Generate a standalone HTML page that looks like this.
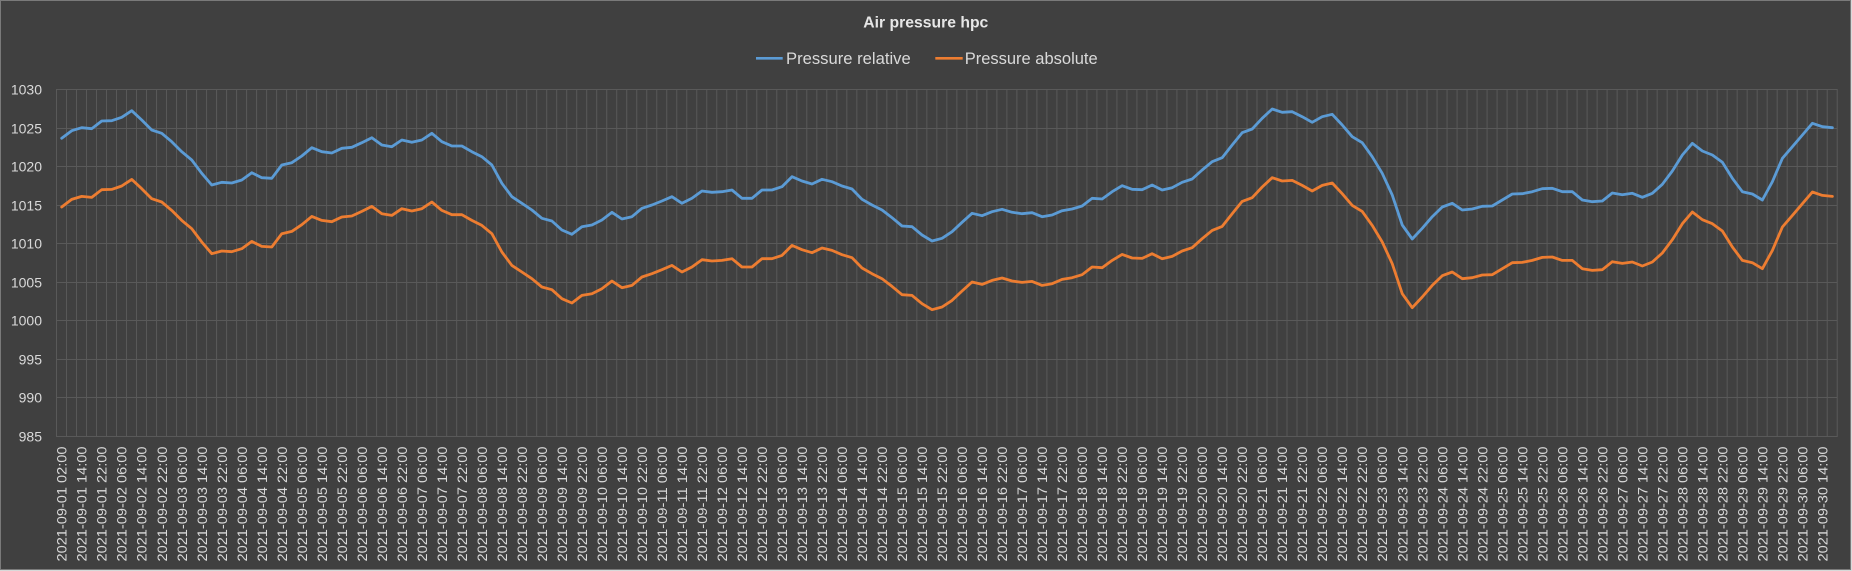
<!DOCTYPE html>
<html>
<head>
<meta charset="utf-8">
<style>
html,body{margin:0;padding:0;background:#d9d9d9;}
svg{display:block;}
text{font-family:"Liberation Sans",sans-serif;fill:#d9d9d9;}
</style>
</head>
<body>
<svg width="1852" height="571" viewBox="0 0 1852 571" xmlns="http://www.w3.org/2000/svg">
<rect x="0" y="0" width="1852" height="571" fill="#d9d9d9"/>
<rect x="0.5" y="0.5" width="1850" height="569" fill="#404040" stroke="#7a7a7a" stroke-width="1"/>

<!-- title -->
<text x="863.3" y="27.7" font-size="16" font-weight="bold" textLength="125" lengthAdjust="spacingAndGlyphs" style="fill:#e6e6e6">Air pressure hpc</text>

<!-- legend -->
<line x1="756" y1="58.3" x2="782.7" y2="58.3" stroke="#5B9BD5" stroke-width="2.6"/>
<text x="786" y="64" font-size="16.5" textLength="124.7" lengthAdjust="spacingAndGlyphs">Pressure relative</text>
<line x1="935.3" y1="58.3" x2="962.7" y2="58.3" stroke="#ED7D31" stroke-width="2.6"/>
<text x="964.7" y="64" font-size="16.5" textLength="133" lengthAdjust="spacingAndGlyphs">Pressure absolute</text>

<!-- vertical gridlines -->
<line x1="56" y1="263" x2="1838" y2="263" stroke="#595959" stroke-width="348" stroke-dasharray="1 9.004"/>
<!-- horizontal gridlines -->
<g stroke="#595959" stroke-width="1">
<line x1="56" y1="89.5" x2="1837.5" y2="89.5"/>
<line x1="56" y1="128.5" x2="1837.5" y2="128.5"/>
<line x1="56" y1="166.5" x2="1837.5" y2="166.5"/>
<line x1="56" y1="205.5" x2="1837.5" y2="205.5"/>
<line x1="56" y1="243.5" x2="1837.5" y2="243.5"/>
<line x1="56" y1="282.5" x2="1837.5" y2="282.5"/>
<line x1="56" y1="320.5" x2="1837.5" y2="320.5"/>
<line x1="56" y1="359.5" x2="1837.5" y2="359.5"/>
<line x1="56" y1="397.5" x2="1837.5" y2="397.5"/>
<line x1="56" y1="436.5" x2="1837.5" y2="436.5"/>
</g>

<!-- y labels -->
<g font-size="14" text-anchor="end">
<text x="42" y="94.5">1030</text>
<text x="42" y="133.5">1025</text>
<text x="42" y="171.5">1020</text>
<text x="42" y="210.5">1015</text>
<text x="42" y="248.5">1010</text>
<text x="42" y="287.5">1005</text>
<text x="42" y="325.5">1000</text>
<text x="42" y="364.5">995</text>
<text x="42" y="402.5">990</text>
<text x="42" y="441.5">985</text>
</g>

<!-- series -->
<g transform="translate(61.7,0) scale(1.0004,1)" fill="none" stroke-width="2.8" stroke-linejoin="round" stroke-linecap="round">
<polyline stroke="#5B9BD5" points="0,138.3 10,130.7 20,127.7 30,128.7 40,121 50,120.7 60,117.3 70,110.7 80,120 90,130 100,133.3 110,141.7 120,151.7 130,160 140,173.3 150,185 160,182.3 170,183 180,180 190,172.7 200,177.7 210,178.3 220,165 230,162.7 240,156 250,147.7 260,151.7 270,153 280,148.3 290,147.3 300,142.7 310,137.7 320,145 330,146.7 340,140 350,142.3 360,140 370,133.3 380,141.7 390,146 400,146 410,151.7 420,156.7 430,165 440,183.3 450,196.7 460,203.3 470,210 480,218.3 490,221 500,230 510,234.3 520,226.7 530,225 540,220 550,212.3 560,219 570,216.7 580,208.3 590,205 600,201 610,196.7 620,203.3 630,198.3 640,191 650,192.3 660,191.7 670,190 680,198.3 690,198.3 700,190 710,190 720,186.7 730,176.7 740,181 750,184 760,179.3 770,181.7 780,186 790,189 800,199.3 810,205 820,210 830,217.7 840,226 850,226.7 860,235 870,241 880,238.3 890,231.7 900,222.3 910,213.3 920,215.7 930,211.7 940,209.3 950,212.3 960,213.7 970,212.7 980,216.7 990,215 1000,210.7 1010,209 1020,206 1030,198.3 1040,199 1050,191.7 1060,185.7 1070,189.3 1080,189.7 1090,185 1100,190 1110,187.7 1120,182.3 1130,179 1140,170 1150,161.7 1160,157.7 1170,145 1180,132.7 1190,129 1200,118.3 1210,109 1220,112.3 1230,111.7 1240,116.7 1250,122.3 1260,116.7 1270,114.3 1280,125 1290,136.7 1300,142.7 1310,156.7 1320,173.3 1330,195 1340,225 1350,239 1360,228.3 1370,216.7 1380,207 1390,203.3 1400,210 1410,209 1420,206.3 1430,206 1440,200 1450,194 1460,193.7 1470,191.7 1480,188.7 1490,188.3 1500,191.7 1510,191.7 1520,200 1530,201.7 1540,201 1550,193 1560,194.7 1570,193.3 1580,197.3 1590,193.3 1600,184.3 1610,171 1620,155 1630,143.3 1640,151 1650,155 1660,162.3 1670,178.3 1680,191.7 1690,194 1700,200 1710,181.7 1720,158.3 1730,146.7 1740,135 1750,123.3 1760,126.7 1770,127.7"/>
<polyline stroke="#ED7D31" transform="translate(0,68.7)" points="0,138.3 10,130.7 20,127.7 30,128.7 40,121 50,120.7 60,117.3 70,110.7 80,120 90,130 100,133.3 110,141.7 120,151.7 130,160 140,173.3 150,185 160,182.3 170,183 180,180 190,172.7 200,177.7 210,178.3 220,165 230,162.7 240,156 250,147.7 260,151.7 270,153 280,148.3 290,147.3 300,142.7 310,137.7 320,145 330,146.7 340,140 350,142.3 360,140 370,133.3 380,141.7 390,146 400,146 410,151.7 420,156.7 430,165 440,183.3 450,196.7 460,203.3 470,210 480,218.3 490,221 500,230 510,234.3 520,226.7 530,225 540,220 550,212.3 560,219 570,216.7 580,208.3 590,205 600,201 610,196.7 620,203.3 630,198.3 640,191 650,192.3 660,191.7 670,190 680,198.3 690,198.3 700,190 710,190 720,186.7 730,176.7 740,181 750,184 760,179.3 770,181.7 780,186 790,189 800,199.3 810,205 820,210 830,217.7 840,226 850,226.7 860,235 870,241 880,238.3 890,231.7 900,222.3 910,213.3 920,215.7 930,211.7 940,209.3 950,212.3 960,213.7 970,212.7 980,216.7 990,215 1000,210.7 1010,209 1020,206 1030,198.3 1040,199 1050,191.7 1060,185.7 1070,189.3 1080,189.7 1090,185 1100,190 1110,187.7 1120,182.3 1130,179 1140,170 1150,161.7 1160,157.7 1170,145 1180,132.7 1190,129 1200,118.3 1210,109 1220,112.3 1230,111.7 1240,116.7 1250,122.3 1260,116.7 1270,114.3 1280,125 1290,136.7 1300,142.7 1310,156.7 1320,173.3 1330,195 1340,225 1350,239 1360,228.3 1370,216.7 1380,207 1390,203.3 1400,210 1410,209 1420,206.3 1430,206 1440,200 1450,194 1460,193.7 1470,191.7 1480,188.7 1490,188.3 1500,191.7 1510,191.7 1520,200 1530,201.7 1540,201 1550,193 1560,194.7 1570,193.3 1580,197.3 1590,193.3 1600,184.3 1610,171 1620,155 1630,143.3 1640,151 1650,155 1660,162.3 1670,178.3 1680,191.7 1690,194 1700,200 1710,181.7 1720,158.3 1730,146.7 1740,135 1750,123.3 1760,126.7 1770,127.7"/>
</g>

<!-- x labels -->
<g transform="translate(61.7,446.5) scale(1.0004,1)" font-size="14" text-anchor="end">
<text transform="translate(0,0) rotate(-90)" y="5" textLength="115" lengthAdjust="spacingAndGlyphs">2021-09-01 02:00</text>
<text transform="translate(20,0) rotate(-90)" y="5" textLength="115" lengthAdjust="spacingAndGlyphs">2021-09-01 14:00</text>
<text transform="translate(40,0) rotate(-90)" y="5" textLength="115" lengthAdjust="spacingAndGlyphs">2021-09-01 22:00</text>
<text transform="translate(60,0) rotate(-90)" y="5" textLength="115" lengthAdjust="spacingAndGlyphs">2021-09-02 06:00</text>
<text transform="translate(80,0) rotate(-90)" y="5" textLength="115" lengthAdjust="spacingAndGlyphs">2021-09-02 14:00</text>
<text transform="translate(100,0) rotate(-90)" y="5" textLength="115" lengthAdjust="spacingAndGlyphs">2021-09-02 22:00</text>
<text transform="translate(120,0) rotate(-90)" y="5" textLength="115" lengthAdjust="spacingAndGlyphs">2021-09-03 06:00</text>
<text transform="translate(140,0) rotate(-90)" y="5" textLength="115" lengthAdjust="spacingAndGlyphs">2021-09-03 14:00</text>
<text transform="translate(160,0) rotate(-90)" y="5" textLength="115" lengthAdjust="spacingAndGlyphs">2021-09-03 22:00</text>
<text transform="translate(180,0) rotate(-90)" y="5" textLength="115" lengthAdjust="spacingAndGlyphs">2021-09-04 06:00</text>
<text transform="translate(200,0) rotate(-90)" y="5" textLength="115" lengthAdjust="spacingAndGlyphs">2021-09-04 14:00</text>
<text transform="translate(220,0) rotate(-90)" y="5" textLength="115" lengthAdjust="spacingAndGlyphs">2021-09-04 22:00</text>
<text transform="translate(240,0) rotate(-90)" y="5" textLength="115" lengthAdjust="spacingAndGlyphs">2021-09-05 06:00</text>
<text transform="translate(260,0) rotate(-90)" y="5" textLength="115" lengthAdjust="spacingAndGlyphs">2021-09-05 14:00</text>
<text transform="translate(280,0) rotate(-90)" y="5" textLength="115" lengthAdjust="spacingAndGlyphs">2021-09-05 22:00</text>
<text transform="translate(300,0) rotate(-90)" y="5" textLength="115" lengthAdjust="spacingAndGlyphs">2021-09-06 06:00</text>
<text transform="translate(320,0) rotate(-90)" y="5" textLength="115" lengthAdjust="spacingAndGlyphs">2021-09-06 14:00</text>
<text transform="translate(340,0) rotate(-90)" y="5" textLength="115" lengthAdjust="spacingAndGlyphs">2021-09-06 22:00</text>
<text transform="translate(360,0) rotate(-90)" y="5" textLength="115" lengthAdjust="spacingAndGlyphs">2021-09-07 06:00</text>
<text transform="translate(380,0) rotate(-90)" y="5" textLength="115" lengthAdjust="spacingAndGlyphs">2021-09-07 14:00</text>
<text transform="translate(400,0) rotate(-90)" y="5" textLength="115" lengthAdjust="spacingAndGlyphs">2021-09-07 22:00</text>
<text transform="translate(420,0) rotate(-90)" y="5" textLength="115" lengthAdjust="spacingAndGlyphs">2021-09-08 06:00</text>
<text transform="translate(440,0) rotate(-90)" y="5" textLength="115" lengthAdjust="spacingAndGlyphs">2021-09-08 14:00</text>
<text transform="translate(460,0) rotate(-90)" y="5" textLength="115" lengthAdjust="spacingAndGlyphs">2021-09-08 22:00</text>
<text transform="translate(480,0) rotate(-90)" y="5" textLength="115" lengthAdjust="spacingAndGlyphs">2021-09-09 06:00</text>
<text transform="translate(500,0) rotate(-90)" y="5" textLength="115" lengthAdjust="spacingAndGlyphs">2021-09-09 14:00</text>
<text transform="translate(520,0) rotate(-90)" y="5" textLength="115" lengthAdjust="spacingAndGlyphs">2021-09-09 22:00</text>
<text transform="translate(540,0) rotate(-90)" y="5" textLength="115" lengthAdjust="spacingAndGlyphs">2021-09-10 06:00</text>
<text transform="translate(560,0) rotate(-90)" y="5" textLength="115" lengthAdjust="spacingAndGlyphs">2021-09-10 14:00</text>
<text transform="translate(580,0) rotate(-90)" y="5" textLength="115" lengthAdjust="spacingAndGlyphs">2021-09-10 22:00</text>
<text transform="translate(600,0) rotate(-90)" y="5" textLength="115" lengthAdjust="spacingAndGlyphs">2021-09-11 06:00</text>
<text transform="translate(620,0) rotate(-90)" y="5" textLength="115" lengthAdjust="spacingAndGlyphs">2021-09-11 14:00</text>
<text transform="translate(640,0) rotate(-90)" y="5" textLength="115" lengthAdjust="spacingAndGlyphs">2021-09-11 22:00</text>
<text transform="translate(660,0) rotate(-90)" y="5" textLength="115" lengthAdjust="spacingAndGlyphs">2021-09-12 06:00</text>
<text transform="translate(680,0) rotate(-90)" y="5" textLength="115" lengthAdjust="spacingAndGlyphs">2021-09-12 14:00</text>
<text transform="translate(700,0) rotate(-90)" y="5" textLength="115" lengthAdjust="spacingAndGlyphs">2021-09-12 22:00</text>
<text transform="translate(720,0) rotate(-90)" y="5" textLength="115" lengthAdjust="spacingAndGlyphs">2021-09-13 06:00</text>
<text transform="translate(740,0) rotate(-90)" y="5" textLength="115" lengthAdjust="spacingAndGlyphs">2021-09-13 14:00</text>
<text transform="translate(760,0) rotate(-90)" y="5" textLength="115" lengthAdjust="spacingAndGlyphs">2021-09-13 22:00</text>
<text transform="translate(780,0) rotate(-90)" y="5" textLength="115" lengthAdjust="spacingAndGlyphs">2021-09-14 06:00</text>
<text transform="translate(800,0) rotate(-90)" y="5" textLength="115" lengthAdjust="spacingAndGlyphs">2021-09-14 14:00</text>
<text transform="translate(820,0) rotate(-90)" y="5" textLength="115" lengthAdjust="spacingAndGlyphs">2021-09-14 22:00</text>
<text transform="translate(840,0) rotate(-90)" y="5" textLength="115" lengthAdjust="spacingAndGlyphs">2021-09-15 06:00</text>
<text transform="translate(860,0) rotate(-90)" y="5" textLength="115" lengthAdjust="spacingAndGlyphs">2021-09-15 14:00</text>
<text transform="translate(880,0) rotate(-90)" y="5" textLength="115" lengthAdjust="spacingAndGlyphs">2021-09-15 22:00</text>
<text transform="translate(900,0) rotate(-90)" y="5" textLength="115" lengthAdjust="spacingAndGlyphs">2021-09-16 06:00</text>
<text transform="translate(920,0) rotate(-90)" y="5" textLength="115" lengthAdjust="spacingAndGlyphs">2021-09-16 14:00</text>
<text transform="translate(940,0) rotate(-90)" y="5" textLength="115" lengthAdjust="spacingAndGlyphs">2021-09-16 22:00</text>
<text transform="translate(960,0) rotate(-90)" y="5" textLength="115" lengthAdjust="spacingAndGlyphs">2021-09-17 06:00</text>
<text transform="translate(980,0) rotate(-90)" y="5" textLength="115" lengthAdjust="spacingAndGlyphs">2021-09-17 14:00</text>
<text transform="translate(1000,0) rotate(-90)" y="5" textLength="115" lengthAdjust="spacingAndGlyphs">2021-09-17 22:00</text>
<text transform="translate(1020,0) rotate(-90)" y="5" textLength="115" lengthAdjust="spacingAndGlyphs">2021-09-18 06:00</text>
<text transform="translate(1040,0) rotate(-90)" y="5" textLength="115" lengthAdjust="spacingAndGlyphs">2021-09-18 14:00</text>
<text transform="translate(1060,0) rotate(-90)" y="5" textLength="115" lengthAdjust="spacingAndGlyphs">2021-09-18 22:00</text>
<text transform="translate(1080,0) rotate(-90)" y="5" textLength="115" lengthAdjust="spacingAndGlyphs">2021-09-19 06:00</text>
<text transform="translate(1100,0) rotate(-90)" y="5" textLength="115" lengthAdjust="spacingAndGlyphs">2021-09-19 14:00</text>
<text transform="translate(1120,0) rotate(-90)" y="5" textLength="115" lengthAdjust="spacingAndGlyphs">2021-09-19 22:00</text>
<text transform="translate(1140,0) rotate(-90)" y="5" textLength="115" lengthAdjust="spacingAndGlyphs">2021-09-20 06:00</text>
<text transform="translate(1160,0) rotate(-90)" y="5" textLength="115" lengthAdjust="spacingAndGlyphs">2021-09-20 14:00</text>
<text transform="translate(1180,0) rotate(-90)" y="5" textLength="115" lengthAdjust="spacingAndGlyphs">2021-09-20 22:00</text>
<text transform="translate(1200,0) rotate(-90)" y="5" textLength="115" lengthAdjust="spacingAndGlyphs">2021-09-21 06:00</text>
<text transform="translate(1220,0) rotate(-90)" y="5" textLength="115" lengthAdjust="spacingAndGlyphs">2021-09-21 14:00</text>
<text transform="translate(1240,0) rotate(-90)" y="5" textLength="115" lengthAdjust="spacingAndGlyphs">2021-09-21 22:00</text>
<text transform="translate(1260,0) rotate(-90)" y="5" textLength="115" lengthAdjust="spacingAndGlyphs">2021-09-22 06:00</text>
<text transform="translate(1280,0) rotate(-90)" y="5" textLength="115" lengthAdjust="spacingAndGlyphs">2021-09-22 14:00</text>
<text transform="translate(1300,0) rotate(-90)" y="5" textLength="115" lengthAdjust="spacingAndGlyphs">2021-09-22 22:00</text>
<text transform="translate(1320,0) rotate(-90)" y="5" textLength="115" lengthAdjust="spacingAndGlyphs">2021-09-23 06:00</text>
<text transform="translate(1340,0) rotate(-90)" y="5" textLength="115" lengthAdjust="spacingAndGlyphs">2021-09-23 14:00</text>
<text transform="translate(1360,0) rotate(-90)" y="5" textLength="115" lengthAdjust="spacingAndGlyphs">2021-09-23 22:00</text>
<text transform="translate(1380,0) rotate(-90)" y="5" textLength="115" lengthAdjust="spacingAndGlyphs">2021-09-24 06:00</text>
<text transform="translate(1400,0) rotate(-90)" y="5" textLength="115" lengthAdjust="spacingAndGlyphs">2021-09-24 14:00</text>
<text transform="translate(1420,0) rotate(-90)" y="5" textLength="115" lengthAdjust="spacingAndGlyphs">2021-09-24 22:00</text>
<text transform="translate(1440,0) rotate(-90)" y="5" textLength="115" lengthAdjust="spacingAndGlyphs">2021-09-25 06:00</text>
<text transform="translate(1460,0) rotate(-90)" y="5" textLength="115" lengthAdjust="spacingAndGlyphs">2021-09-25 14:00</text>
<text transform="translate(1480,0) rotate(-90)" y="5" textLength="115" lengthAdjust="spacingAndGlyphs">2021-09-25 22:00</text>
<text transform="translate(1500,0) rotate(-90)" y="5" textLength="115" lengthAdjust="spacingAndGlyphs">2021-09-26 06:00</text>
<text transform="translate(1520,0) rotate(-90)" y="5" textLength="115" lengthAdjust="spacingAndGlyphs">2021-09-26 14:00</text>
<text transform="translate(1540,0) rotate(-90)" y="5" textLength="115" lengthAdjust="spacingAndGlyphs">2021-09-26 22:00</text>
<text transform="translate(1560,0) rotate(-90)" y="5" textLength="115" lengthAdjust="spacingAndGlyphs">2021-09-27 06:00</text>
<text transform="translate(1580,0) rotate(-90)" y="5" textLength="115" lengthAdjust="spacingAndGlyphs">2021-09-27 14:00</text>
<text transform="translate(1600,0) rotate(-90)" y="5" textLength="115" lengthAdjust="spacingAndGlyphs">2021-09-27 22:00</text>
<text transform="translate(1620,0) rotate(-90)" y="5" textLength="115" lengthAdjust="spacingAndGlyphs">2021-09-28 06:00</text>
<text transform="translate(1640,0) rotate(-90)" y="5" textLength="115" lengthAdjust="spacingAndGlyphs">2021-09-28 14:00</text>
<text transform="translate(1660,0) rotate(-90)" y="5" textLength="115" lengthAdjust="spacingAndGlyphs">2021-09-28 22:00</text>
<text transform="translate(1680,0) rotate(-90)" y="5" textLength="115" lengthAdjust="spacingAndGlyphs">2021-09-29 06:00</text>
<text transform="translate(1700,0) rotate(-90)" y="5" textLength="115" lengthAdjust="spacingAndGlyphs">2021-09-29 14:00</text>
<text transform="translate(1720,0) rotate(-90)" y="5" textLength="115" lengthAdjust="spacingAndGlyphs">2021-09-29 22:00</text>
<text transform="translate(1740,0) rotate(-90)" y="5" textLength="115" lengthAdjust="spacingAndGlyphs">2021-09-30 06:00</text>
<text transform="translate(1760,0) rotate(-90)" y="5" textLength="115" lengthAdjust="spacingAndGlyphs">2021-09-30 14:00</text>
</g>
</svg>
</body>
</html>
